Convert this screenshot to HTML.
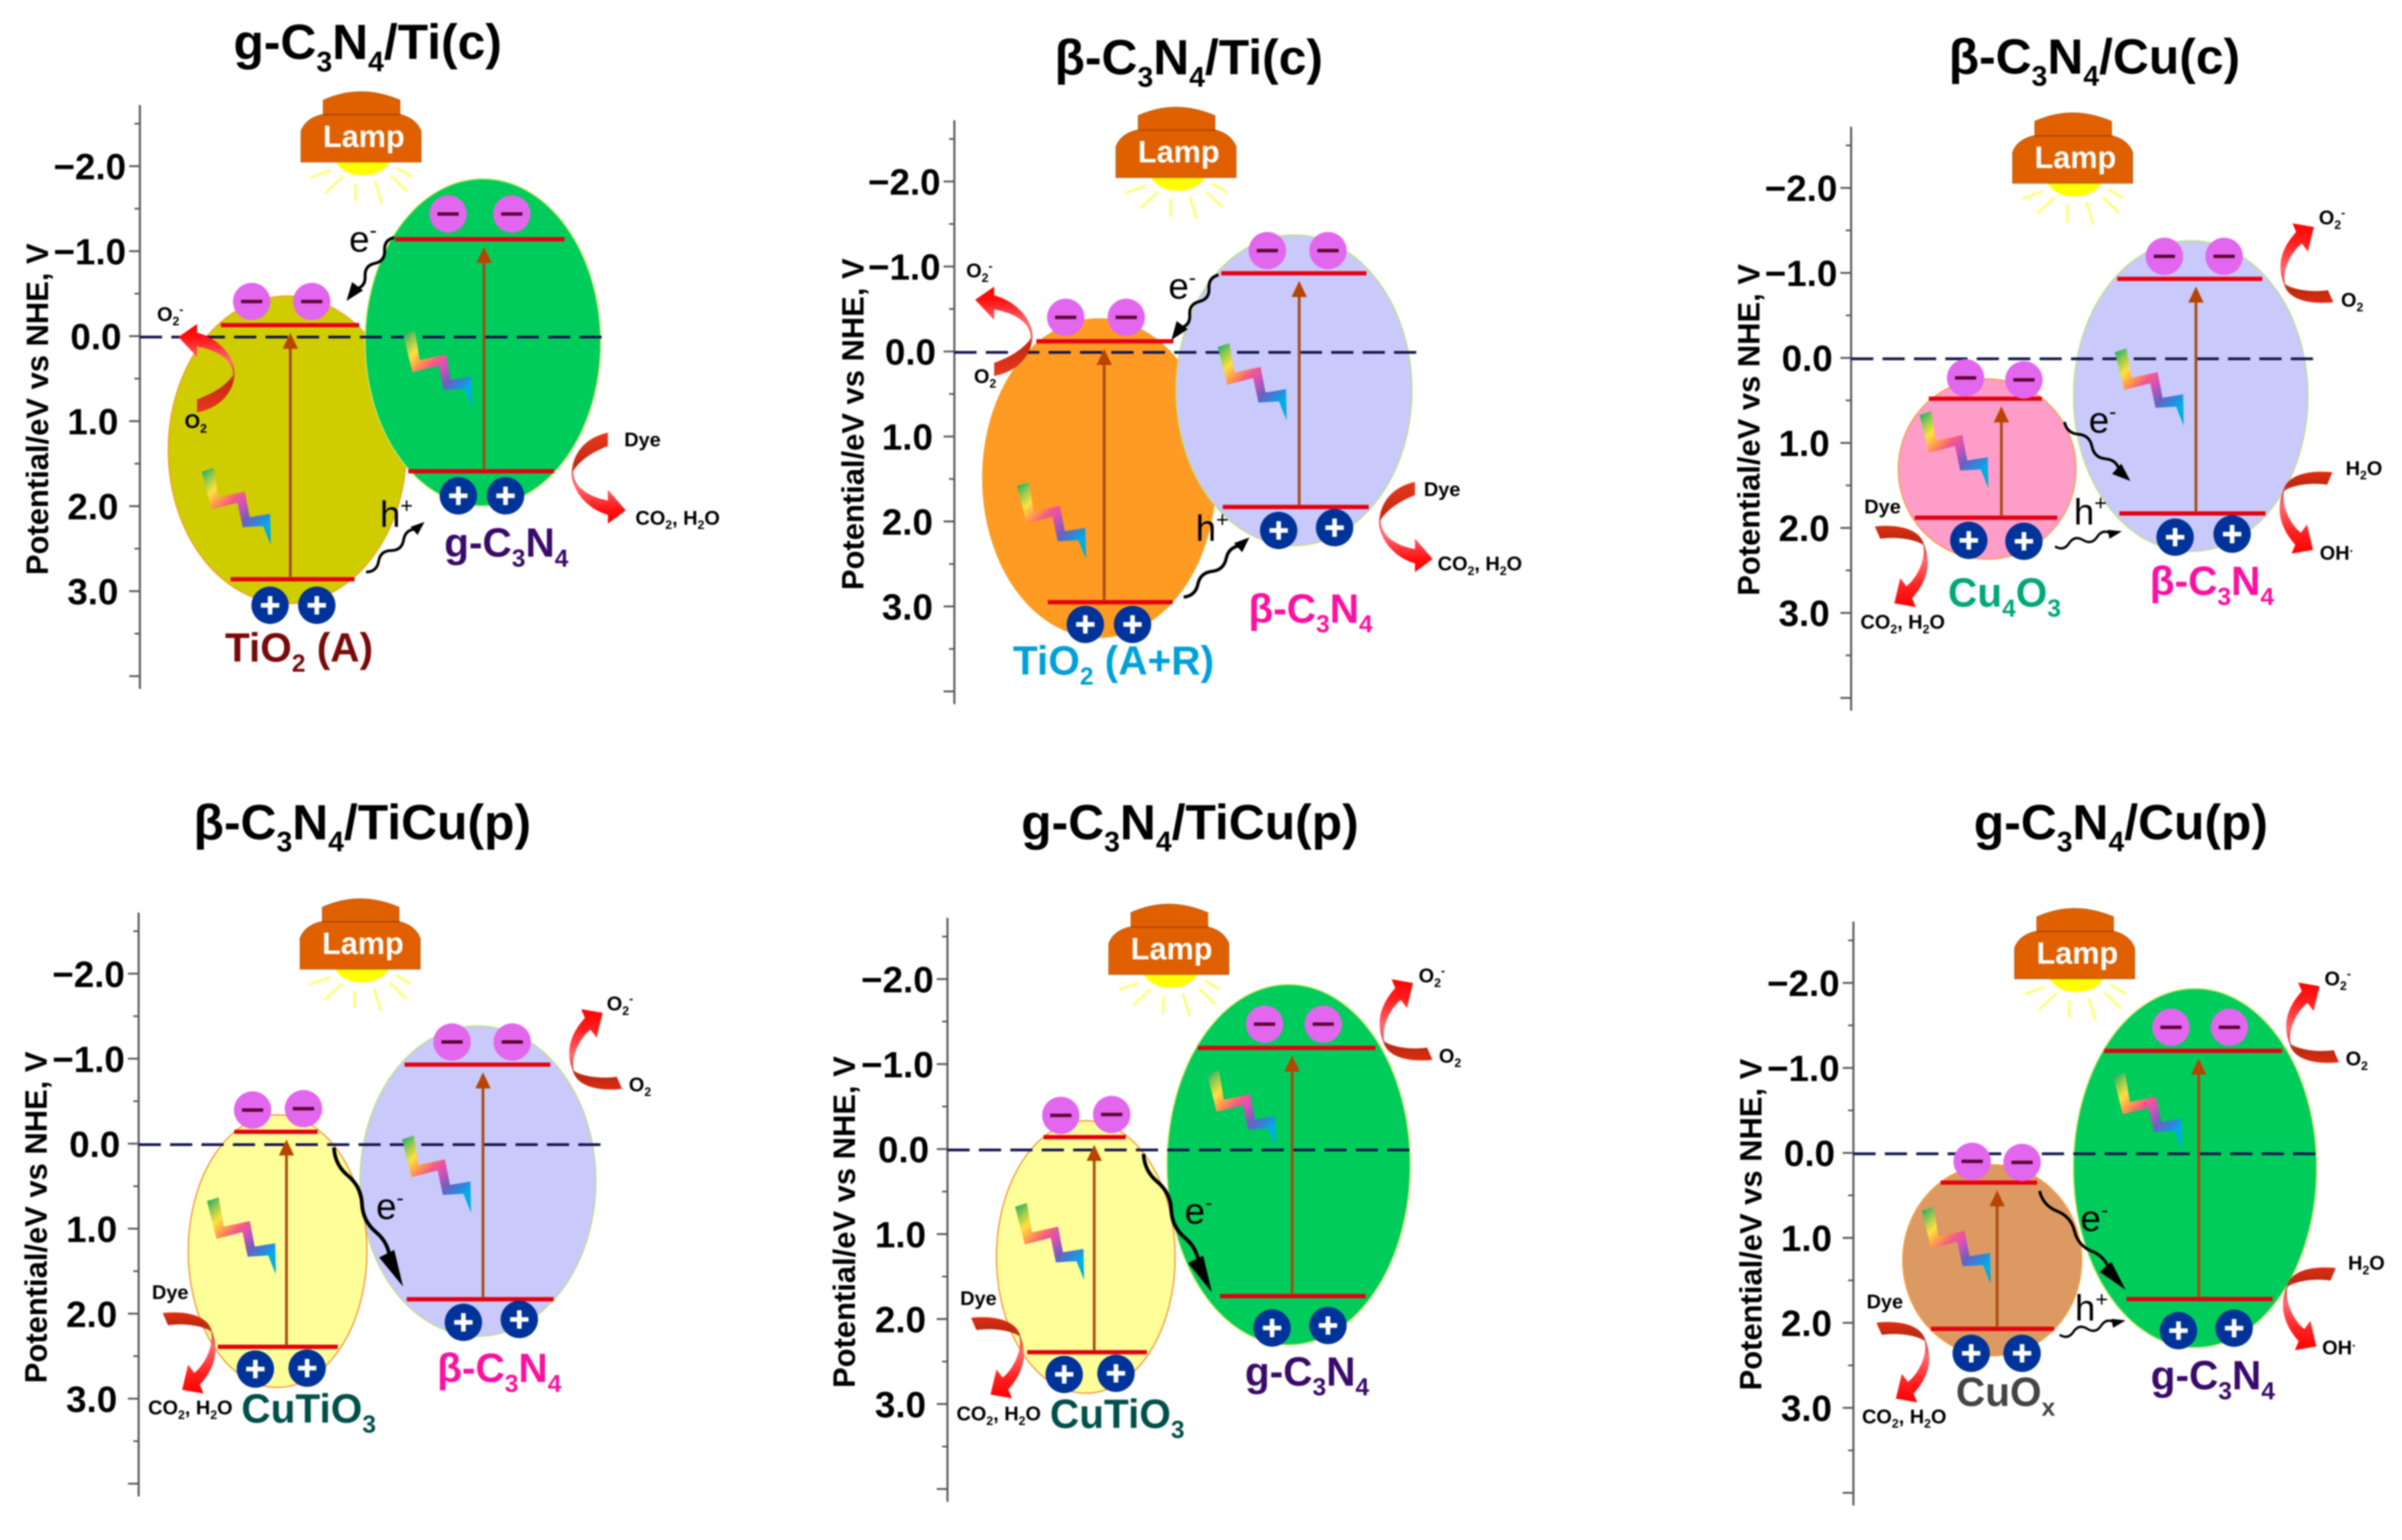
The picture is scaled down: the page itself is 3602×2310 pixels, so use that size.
<!DOCTYPE html>
<html lang="en">
<head>
<meta charset="utf-8">
<title>Band alignment diagrams</title>
<style>
html,body{margin:0;padding:0;background:#fff}
svg{display:block;filter:blur(1.1px)}
text{font-family:"Liberation Sans",sans-serif}
.title{font-size:32.5px;font-weight:700;fill:#000;text-anchor:middle}
.axt{font-size:20.2px;font-weight:700;fill:#000}
.mat{font-size:26.5px;font-weight:700;text-anchor:middle}
.sm{font-size:13px;font-weight:700;fill:#000}
.car{font-size:24px;fill:#000}
.lamp-text{font-size:20px;font-weight:700;fill:#fff;text-anchor:middle}
</style>
</head>
<body>
<svg xmlns="http://www.w3.org/2000/svg" width="3602" height="2310" viewBox="0 0 1568 1005.58">
<defs>
<linearGradient id="red-grad" x1="0" y1="0" x2="0" y2="1">
<stop offset="0" stop-color="#e8381c"/><stop offset=".35" stop-color="#c42a12"/><stop offset=".45" stop-color="#e84a40"/><stop offset=".58" stop-color="#ff7078"/><stop offset=".85" stop-color="#ff1010"/><stop offset="1" stop-color="#ff0000"/>
</linearGradient>
<linearGradient id="red-grad-b" x1="0" y1="0" x2="0" y2="1">
<stop offset="0" stop-color="#e02c12"/><stop offset=".16" stop-color="#bc2a10"/><stop offset=".26" stop-color="#d8403a"/><stop offset=".42" stop-color="#ff6a70"/><stop offset=".75" stop-color="#ff2020"/><stop offset="1" stop-color="#ff0000"/>
</linearGradient>
<linearGradient id="bolt-grad" gradientUnits="userSpaceOnUse" x1="0" y1="0" x2="47.5" y2="47.5">
<stop offset="0" stop-color="#00a870"/><stop offset=".12" stop-color="#90c850"/><stop offset=".23" stop-color="#ffe040"/><stop offset=".35" stop-color="#ff9050"/><stop offset=".43" stop-color="#f45a88"/><stop offset=".52" stop-color="#d850b8"/><stop offset=".66" stop-color="#6a60c0"/><stop offset=".78" stop-color="#2090e0"/><stop offset=".85" stop-color="#00b0e8"/><stop offset="1" stop-color="#00a8d0"/>
</linearGradient>
<path id="red-arrow" fill="url(#red-grad)" d="M23.9 0C10.2 2.9 1.45 12.3 .3 25.4C-.3 37 10.2 50 23.9 53.7L23.9 59.5L35.6 50.8L23.9 37.3L23.9 44.3C11.6 42.1 1.45 35.6 1.2 25.4C5 19 12 13.5 23.9 8.7Z"/>
<path id="red-arrow-b" fill="url(#red-grad-b)" d="M36.6 1.5C23.2 0 7.3 2.2 4.4 13.8C0 25.2 1.5 37 12.3 49.3L9.9 55.2L23.9 52.7L20 35.9L16 41.4C8.7 35.6 2.9 22.5 5.1 13.8C10.2 10.2 21.8 8 33.1 9.7Z"/>
<path id="bolt" fill="url(#bolt-grad)" d="M0 2.5L7.7 0L10.9 19.2L28 15.5L31.2 32.2L44.6 30L45 50.4L40 38L26.6 38.8L23.2 22.8L6.2 27.1Z"/>
<g id="lamp-shape">
<path fill="#ffff00" d="M22.9 45.9Q28 54.6 40.4 54.6T58 45.9Z"/>
<path fill="#e06000" stroke="#b06020" stroke-width=".5" d="M0 45.9V25.8Q3 17.5 13.5 15H14.5V5.5Q27 0 39.2 0T64.6 5.5V15H65.3Q75 17.5 78.4 25.8V45.9Z"/>
<path stroke="#a84000" stroke-width=".8" fill="none" d="M14.5 15H65"/>
<path stroke="#ffff70" stroke-width="1.6" fill="none" d="M6.5 55.9L19.6 51.2M16 66L27.3 55.3M35.6 59.9V71.6M48.3 58.5L52.7 73M58.8 54.9L69.4 65.5M62.4 49.8L72.3 55.6"/>
</g>
</defs>
<rect x="0" y="0" width="1568" height="1005.58" fill="#fff"/>
<g transform="translate(-1.5,-1.5)">

<!-- Panel 1 -->
<g>
<g id="marks-0"></g>
<use href="#bolt" transform="translate(133.3,307)"/>
<use href="#bolt" transform="translate(264.6,217.4)"/>
<use href="#red-arrow" transform="translate(155,270.8) scale(-1.04,-.97)"/>
<use href="#red-arrow" transform="translate(374.4,284)"/>
<text class="title" x="241.5" y="40">g-C<tspan dy="8" font-size="18.5">3</tspan><tspan dy="-8">N</tspan><tspan dy="8" font-size="18.5">4</tspan><tspan dy="-8">/Ti(c)</tspan></text>
<text class="axt" transform="translate(32.8,377) rotate(-90)">Potential/eV vs NHE, V</text>
<g transform="translate(198,61.4)"><use href="#lamp-shape"/><text class="lamp-text" x="41" y="36">Lamp</text></g>
<text class="mat" x="196.7" y="433.5" fill="#7a0a0a">TiO<tspan dy="6.5" font-size="16">2</tspan><tspan dy="-6.5"> (A)</tspan></text>
<text class="mat" x="332" y="365" fill="#3a0a6a">g-C<tspan dy="6.5" font-size="16">3</tspan><tspan dy="-6.5">N</tspan><tspan dy="6.5" font-size="16">4</tspan></text>
<text class="sm" x="104" y="211">O<tspan dy="3" font-size="8">2</tspan><tspan dy="-8" font-size="8">-</tspan></text>
<text class="sm" x="122" y="281">O<tspan dy="3" font-size="8">2</tspan></text>
<text class="sm" x="409" y="293">Dye</text>
<text class="sm" x="416.3" y="344">CO<tspan dy="3" font-size="8">2</tspan><tspan dy="-3">, H</tspan><tspan dy="3" font-size="8">2</tspan><tspan dy="-3">O</tspan></text>
<text class="car" x="229.4" y="165.8">e<tspan dy="-9" font-size="14">-</tspan></text>
<text class="car" x="249.5" y="345.4">h<tspan dy="-9" font-size="14">+</tspan></text>
</g>

<!-- Panel 2 -->
<g>
<g id="marks-1"></g>
<use href="#bolt" transform="translate(665.4,316.2)"/>
<use href="#bolt" transform="translate(796.4,225.6)"/>
<use href="#red-arrow" transform="translate(675.8,247) scale(-1.06,-.98)"/>
<use href="#red-arrow" transform="translate(901.5,316.2) scale(.99,.99)"/>
<text class="title" x="777.5" y="50">β-C<tspan dy="8" font-size="18.5">3</tspan><tspan dy="-8">N</tspan><tspan dy="8" font-size="18.5">4</tspan><tspan dy="-8">/Ti(c)</tspan></text>
<text class="axt" transform="translate(565.3,386.8) rotate(-90)">Potential/eV vs NHE, V</text>
<g transform="translate(730,71.5)"><use href="#lamp-shape"/><text class="lamp-text" x="41" y="36">Lamp</text></g>
<text class="mat" x="728.4" y="442" fill="#00a0d8">TiO<tspan dy="6.5" font-size="16">2</tspan><tspan dy="-6.5"> (A+R)</tspan></text>
<text class="mat" x="857" y="408" fill="#ff0f9f">β-C<tspan dy="6.5" font-size="16">3</tspan><tspan dy="-6.5">N</tspan><tspan dy="6.5" font-size="16">4</tspan></text>
<text class="sm" x="632.2" y="182.7">O<tspan dy="3" font-size="8">2</tspan><tspan dy="-8" font-size="8">-</tspan></text>
<text class="sm" x="637.3" y="251.7">O<tspan dy="3" font-size="8">2</tspan></text>
<text class="sm" x="931" y="325.4">Dye</text>
<text class="sm" x="940" y="374">CO<tspan dy="3" font-size="8">2</tspan><tspan dy="-3">, H</tspan><tspan dy="3" font-size="8">2</tspan><tspan dy="-3">O</tspan></text>
<text class="car" x="764.2" y="196.5">e<tspan dy="-9" font-size="14">-</tspan></text>
<text class="car" x="782" y="354.6">h<tspan dy="-9" font-size="14">+</tspan></text>
</g>

<!-- Panel 3 -->
<g>
<g id="marks-2"></g>
<use href="#bolt" transform="translate(1254.5,270)"/>
<use href="#bolt" transform="translate(1382,229)"/>
<use href="#red-arrow-b" transform="translate(1488.1,200.3) scale(1,-.96)"/>
<use href="#red-arrow-b" transform="translate(1487.5,308.4) scale(1,.99)"/>
<use href="#red-arrow-b" transform="translate(1262,343.8) scale(-1,.98)"/>
<text class="title" x="1368.7" y="49.5">β-C<tspan dy="8" font-size="18.5">3</tspan><tspan dy="-8">N</tspan><tspan dy="8" font-size="18.5">4</tspan><tspan dy="-8">/Cu(c)</tspan></text>
<text class="axt" transform="translate(1150,390.5) rotate(-90)">Potential/eV vs NHE, V</text>
<g transform="translate(1315.3,75.2)"><use href="#lamp-shape"/><text class="lamp-text" x="41" y="36">Lamp</text></g>
<text class="mat" x="1310" y="397.6" fill="#00a878">Cu<tspan dy="6.5" font-size="16">4</tspan><tspan dy="-6.5">O</tspan><tspan dy="6.5" font-size="16">3</tspan></text>
<text class="mat" x="1445.4" y="390" fill="#ff0f9f">β-C<tspan dy="6.5" font-size="16">3</tspan><tspan dy="-6.5">N</tspan><tspan dy="6.5" font-size="16">4</tspan></text>
<text class="sm" x="1515.2" y="148">O<tspan dy="3" font-size="8">2</tspan><tspan dy="-8" font-size="8">-</tspan></text>
<text class="sm" x="1529.7" y="201.7">O<tspan dy="3" font-size="8">2</tspan></text>
<text class="sm" x="1532.7" y="311.6">H<tspan dy="3" font-size="8">2</tspan><tspan dy="-3">O</tspan></text>
<text class="sm" x="1515.8" y="367">OH<tspan dy="-5" font-size="8">.</tspan></text>
<text class="sm" x="1218.5" y="336.8">Dye</text>
<text class="sm" x="1216" y="412">CO<tspan dy="3" font-size="8">2</tspan><tspan dy="-3">, H</tspan><tspan dy="3" font-size="8">2</tspan><tspan dy="-3">O</tspan></text>
<text class="car" x="1365" y="284">e<tspan dy="-9" font-size="14">-</tspan></text>
<text class="car" x="1355.3" y="343.8">h<tspan dy="-9" font-size="14">+</tspan></text>
</g>

<!-- Panel 4 -->
<g>
<g id="marks-3"></g>
<use href="#bolt" transform="translate(136.6,783.3)"/>
<use href="#bolt" transform="translate(264,743)"/>
<use href="#red-arrow-b" transform="translate(371,714) scale(1,-.97)"/>
<use href="#red-arrow-b" transform="translate(144.3,857.4) scale(-1,.98)"/>
<text class="title" x="238" y="549.5">β-C<tspan dy="8" font-size="18.5">3</tspan><tspan dy="-8">N</tspan><tspan dy="8" font-size="18.5">4</tspan><tspan dy="-8">/TiCu(p)</tspan></text>
<text class="axt" transform="translate(32,904.7) rotate(-90)">Potential/eV vs NHE, V</text>
<g transform="translate(197.4,588.4)"><use href="#lamp-shape"/><text class="lamp-text" x="41" y="36">Lamp</text></g>
<text class="mat" x="203" y="930.5" fill="#00504a">CuTiO<tspan dy="6.5" font-size="16">3</tspan></text>
<text class="mat" x="327.4" y="904" fill="#ff0f9f">β-C<tspan dy="6.5" font-size="16">3</tspan><tspan dy="-6.5">N</tspan><tspan dy="6.5" font-size="16">4</tspan></text>
<text class="sm" x="397.6" y="661.3">O<tspan dy="3" font-size="8">2</tspan><tspan dy="-8" font-size="8">-</tspan></text>
<text class="sm" x="412" y="714.2">O<tspan dy="3" font-size="8">2</tspan></text>
<text class="sm" x="100.7" y="849.8">Dye</text>
<text class="sm" x="98.2" y="925">CO<tspan dy="3" font-size="8">2</tspan><tspan dy="-3">, H</tspan><tspan dy="3" font-size="8">2</tspan><tspan dy="-3">O</tspan></text>
<text class="car" x="247" y="797.5">e<tspan dy="-9" font-size="14">-</tspan></text>
</g>

<!-- Panel 5 -->
<g>
<g id="marks-4"></g>
<use href="#bolt" transform="translate(664.2,787)"/>
<use href="#bolt" transform="translate(789.5,700.4)"/>
<use href="#red-arrow-b" transform="translate(900,695) scale(1,-.98)"/>
<use href="#red-arrow-b" transform="translate(672,860.5) scale(-1,.98)"/>
<text class="title" x="778.3" y="549.5">g-C<tspan dy="8" font-size="18.5">3</tspan><tspan dy="-8">N</tspan><tspan dy="8" font-size="18.5">4</tspan><tspan dy="-8">/TiCu(p)</tspan></text>
<text class="axt" transform="translate(559.5,907.8) rotate(-90)">Potential/eV vs NHE, V</text>
<g transform="translate(725.3,591.9)"><use href="#lamp-shape"/><text class="lamp-text" x="41" y="36">Lamp</text></g>
<text class="mat" x="730.8" y="934" fill="#00504a">CuTiO<tspan dy="6.5" font-size="16">3</tspan></text>
<text class="mat" x="854.7" y="906.2" fill="#3a0a6a">g-C<tspan dy="6.5" font-size="16">3</tspan><tspan dy="-6.5">N</tspan><tspan dy="6.5" font-size="16">4</tspan></text>
<text class="sm" x="927.6" y="643">O<tspan dy="3" font-size="8">2</tspan><tspan dy="-8" font-size="8">-</tspan></text>
<text class="sm" x="940.8" y="695.3">O<tspan dy="3" font-size="8">2</tspan></text>
<text class="sm" x="628.3" y="853.6">Dye</text>
<text class="sm" x="625.9" y="929">CO<tspan dy="3" font-size="8">2</tspan><tspan dy="-3">, H</tspan><tspan dy="3" font-size="8">2</tspan><tspan dy="-3">O</tspan></text>
<text class="car" x="774.8" y="800.6">e<tspan dy="-9" font-size="14">-</tspan></text>
</g>

<!-- Panel 6 -->
<g>
<g id="marks-5"></g>
<use href="#bolt" transform="translate(1256,789.6)"/>
<use href="#bolt" transform="translate(1381,702)"/>
<use href="#red-arrow-b" transform="translate(1491.8,696.6) scale(1,-.97)"/>
<use href="#red-arrow-b" transform="translate(1489.7,828)"/>
<use href="#red-arrow-b" transform="translate(1263,863.7) scale(-1,.97)"/>
<text class="title" x="1386" y="549.5">g-C<tspan dy="8" font-size="18.5">3</tspan><tspan dy="-8">N</tspan><tspan dy="8" font-size="18.5">4</tspan><tspan dy="-8">/Cu(p)</tspan></text>
<text class="axt" transform="translate(1151.4,909.4) rotate(-90)">Potential/eV vs NHE, V</text>
<g transform="translate(1316.6,594.7)"><use href="#lamp-shape"/><text class="lamp-text" x="41" y="36">Lamp</text></g>
<text class="mat" x="1310.7" y="919.5" fill="#444444">CuO<tspan dy="6.5" font-size="16">x</tspan></text>
<text class="mat" x="1446" y="908.8" fill="#3a0a6a">g-C<tspan dy="6.5" font-size="16">3</tspan><tspan dy="-6.5">N</tspan><tspan dy="6.5" font-size="16">4</tspan></text>
<text class="sm" x="1518.9" y="645">O<tspan dy="3" font-size="8">2</tspan><tspan dy="-8" font-size="8">-</tspan></text>
<text class="sm" x="1532.7" y="697.2">O<tspan dy="3" font-size="8">2</tspan></text>
<text class="sm" x="1534.3" y="830.6">H<tspan dy="3" font-size="8">2</tspan><tspan dy="-3">O</tspan></text>
<text class="sm" x="1517.4" y="885.8">OH<tspan dy="-5" font-size="8">.</tspan></text>
<text class="sm" x="1220" y="855.8">Dye</text>
<text class="sm" x="1217" y="930.8">CO<tspan dy="3" font-size="8">2</tspan><tspan dy="-3">, H</tspan><tspan dy="3" font-size="8">2</tspan><tspan dy="-3">O</tspan></text>
<text class="car" x="1359.6" y="805.4">e<tspan dy="-9" font-size="14">-</tspan></text>
<text class="car" x="1356" y="863.7">h<tspan dy="-9" font-size="14">+</tspan></text>
</g>
</g>
</svg>

<script>
// Band-edge potentials (eV vs NHE), one entry per panel.
const leftCB  = [-0.13, -0.12, 0.48, -0.14, -0.14, 0.35];
const leftVB  = [2.86, 2.95, 1.88, 2.39, 2.39, 2.07];
const rightCB = [-1.14, -0.92, -0.93, -0.93, -1.19, -1.20];
const rightVB = [1.59, 1.83, 1.83, 1.83, 1.73, 1.72];
// Axis tick values and printed labels (shared by all panels).
const majorTicks = [-2, -1, 0, 1, 2, 3, 4];
const minorTicks = [-2.5, -1.5, -0.5, 0.5, 1.5, 2.5, 3.5];
const tickLabels = ['\u22122.0', '\u22121.0', '0.0', '1.0', '2.0', '3.0', ''];
const referenceLevel = [0];

const SVGNS = 'http://www.w3.org/2000/svg';
const PX_PER_EV = 55.5;

function node(tag, parent, attrs) {
  const el = document.createElementNS(SVGNS, tag);
  for (const k in attrs) el.setAttribute(k, attrs[k]);
  parent.appendChild(el);
  return el;
}

function drawAxis(g, axisX, yOf) {
  const spine = node('line', g, {x1: axisX, x2: axisX, y1: yOf(-2.72), y2: yOf(4.15), stroke: '#555', 'stroke-width': 1.3});
  
  
  majorTicks.forEach((v, k) => {
    const t = node('line', g, {x1: axisX - 7, x2: axisX, y1: yOf(v), y2: yOf(v), stroke: '#555', 'stroke-width': 1.2});
    
    
    if (!tickLabels[k]) return;
    const off = v < 0 ? 9 : (v === 0 ? 12 : 14);
    const lab = node('text', g, {x: axisX - off, y: yOf(v) + 8.6, 'text-anchor': 'end', 'font-size': 24, 'font-weight': 700, fill: '#000'});
    
    
    lab.textContent = tickLabels[k];
  });
  minorTicks.forEach(v => {
    const t = node('line', g, {x1: axisX - 3.5, x2: axisX, y1: yOf(v), y2: yOf(v), stroke: '#555', 'stroke-width': 1.1});
    
    
  });
}

function drawBody(g, s, yOf) {
  const top = yOf(s.cb) - s.padT, bot = yOf(s.vb) + s.padB;
  const e = node('ellipse', g, {cx: s.cx, rx: s.rx, cy: (top + bot) / 2, ry: (bot - top) / 2, fill: s.fill, stroke: s.stroke, 'stroke-width': 0.8});
  
  
}

function drawBands(g, s, yOf) {
  const yc = yOf(s.cb), yv = yOf(s.vb);
  const cb = node('line', g, {x1: s.cbX[0], x2: s.cbX[1], y1: yc, y2: yc, stroke: '#e4000f', 'stroke-width': 2.8});
  
  
  const vb = node('line', g, {x1: s.vbX[0], x2: s.vbX[1], y1: yv, y2: yv, stroke: '#e4000f', 'stroke-width': 2.8});
  
  
  const shaft = node('line', g, {x1: s.arrowX, x2: s.arrowX, y1: yv - 1, y2: yc + 14, stroke: '#a84a10', 'stroke-width': 1.8});
  
  
  const head = node('polygon', g, {points: (s.arrowX - 5) + ',' + (yc + 15.5) + ' ' + (s.arrowX + 5) + ',' + (yc + 15.5) + ' ' + s.arrowX + ',' + (yc + 5), fill: '#b84400'});
  
  
  s.ex.forEach((x, k) => {
    const cy = yc - s.ed[k];
    const c = node('circle', g, {cx: x, cy: cy, r: 12.2, fill: '#e266ee'});
    
    
    const m = node('rect', g, {x: x - 6.9, y: cy - 1.1, width: 13.8, height: 2.2, fill: '#5a0030'});
    
    
  });
  s.hx.forEach((x, k) => {
    const cy = yv + s.hd[k];
    const c = node('circle', g, {cx: x, cy: cy, r: 12.2, fill: '#003399'});
    
    
    const p = node('path', g, {d: 'M' + (x - 6) + ' ' + cy + 'H' + (x + 6) + 'M' + x + ' ' + (cy - 6) + 'V' + (cy + 6), stroke: '#fff', 'stroke-width': 3, fill: 'none'});
    
    
  });
}

function drawWave(g, name, x1, y1, x2, y2, headLen, headW, lw) {
  const dx = x2 - x1, dy = y2 - y1, len = Math.hypot(dx, dy);
  const ux = dx / len, uy = dy / len, px = -uy, py = ux;
  const L = len - headLen * 0.8;
  const at = (t, o) => (x1 + ux * L * t + px * o) + ' ' + (y1 + uy * L * t + py * o);
  const d = 'M' + at(0, 0) + 'Q' + at(0.125, 4.5) + ' ' + at(0.25, 0) + 'T' + at(0.5, 0) + 'T' + at(0.75, 0) + 'T' + at(1, 0);
  const w = node('path', g, {d: d, fill: 'none', stroke: '#000', 'stroke-width': lw});
  
  
  const bx = x2 - ux * headLen, by = y2 - uy * headLen;
  const pts = x2 + ',' + y2 + ' ' + (bx + px * headW / 2) + ',' + (by + py * headW / 2) + ' ' + (bx - px * headW / 2) + ',' + (by - py * headW / 2);
  const h = node('polygon', g, {points: pts, fill: '#000'});
  
  
}

function drawPanel(i, axisX, zeroY, left, right, leftOnTop, waves) {
  const yOf = v => zeroY + v * PX_PER_EV;
  const g = document.getElementById('marks-' + i);
  left.cb = leftCB[i]; left.vb = leftVB[i];
  right.cb = rightCB[i]; right.vb = rightVB[i];
  (leftOnTop ? [right, left] : [left, right]).forEach(s => drawBody(g, s, yOf));
  drawAxis(g, axisX, yOf);
  referenceLevel.forEach(v => {
    const dash = node('line', g, {x1: axisX, x2: axisX + 302, y1: yOf(v) + 0.6, y2: yOf(v) + 0.6, stroke: '#14144e', 'stroke-width': 1.8, 'stroke-dasharray': '14.5 6'});
    
    
  });
  drawBands(g, left, yOf);
  drawBands(g, right, yOf);
  waves.forEach(w => drawWave(g, w[0], w[1], w[2], w[3], w[4], w[5], w[6], w[7]));
}

drawPanel(0, 92.8, 221,
  {cx: 189, rx: 77.7, padT: 19, padB: 16, fill: '#cfcc00', stroke: '#f0a030', cbX: [145.7, 236], vbX: [152, 233], arrowX: 191, ex: [165.8, 205], ed: [15.4, 15.4], hx: [177.8, 208.3], hd: [17, 17]},
  {cx: 316.7, rx: 76.9, padT: 39.5, padB: 22.6, fill: '#00cc5c', stroke: '#c8e860', cbX: [259.5, 370], vbX: [268, 363], arrowX: 317.5, ex: [294, 335.6], ed: [16.5, 16.5], hx: [300.7, 331.5], hd: [16, 16]},
  false,
  [['electron-transfer-arrow', 258.9, 156.6, 227.7, 198, 12, 9, 1.9], ['hole-transfer-arrow', 240.5, 375, 278.6, 342.3, 9, 7, 1.8]]);

drawPanel(1, 624.5, 231,
  {cx: 719, rx: 76, padT: 14.7, padB: 23, fill: '#ff9a22', stroke: '#f0a030', cbX: [678, 767.5], vbX: [685.5, 767], arrowX: 722.3, ex: [697.2, 736.7], ed: [15.6, 15.6], hx: [710, 740.8], hd: [14.5, 14.5]},
  {cx: 846.2, rx: 77, padT: 25, padB: 25.2, fill: '#c9c9fb', stroke: '#c0e080', cbX: [798.7, 893.5], vbX: [799.7, 895], arrowX: 849.6, ex: [828.8, 868.4], ed: [14.8, 14.8], hx: [836.2, 872.7], hd: [15.3, 13.5]},
  false,
  [['electron-transfer-arrow', 797, 181, 766.2, 223.5, 12, 9, 1.9], ['hole-transfer-arrow', 774.2, 391.4, 817.1, 352.4, 10, 8, 2.1]]);

drawPanel(2, 1209.9, 235.2,
  {cx: 1298.7, rx: 58, padT: 12.9, padB: 27.1, fill: '#ff9dc9', stroke: '#f0a040', cbX: [1260.6, 1334.4], vbX: [1251.4, 1344.5], arrowX: 1308, ex: [1284.6, 1322.7], ed: [13.6, 12.3], hx: [1286.7, 1322.7], hd: [14.8, 15.4]},
  {cx: 1431.6, rx: 76.5, padT: 24.9, padB: 24.8, fill: '#c9c9fb', stroke: '#c0e080', cbX: [1383.6, 1478.3], vbX: [1385, 1480.4], arrowX: 1435, ex: [1414.4, 1453.4], ed: [14.7, 14.7], hx: [1421.4, 1458.6], hd: [15.5, 13.5]},
  true,
  [['electron-transfer-arrow', 1349.2, 277, 1392.2, 315.6, 12, 9, 1.8], ['hole-transfer-arrow', 1343, 358.3, 1386.7, 348.4, 9, 6, 1.5]]);

drawPanel(3, 92, 748.3,
  {cx: 182.7, rx: 58.3, padT: 11, padB: 26.5, fill: '#ffff99', stroke: '#f09030', cbX: [154.4, 208.8], vbX: [143.7, 222], arrowX: 188.5, ex: [166.4, 199.6], ed: [14.2, 15.1], hx: [168.2, 202], hd: [14.5, 13.9]},
  {cx: 313.5, rx: 77, padT: 25.3, padB: 24.2, fill: '#c9c9fb', stroke: '#c0e080', cbX: [265.6, 360.7], vbX: [267, 362.9], arrowX: 316.8, ex: [296.6, 335.9], ed: [14.8, 14.8], hx: [304, 340.5], hd: [15.1, 13.2]},
  true,
  [['electron-transfer-arrow', 219.5, 750.8, 264.6, 841.6, 24, 11, 2.4]]);

drawPanel(4, 620, 751.8,
  {cx: 710.3, rx: 58.3, padT: 10.7, padB: 26.8, fill: '#ffff99', stroke: '#f09030', cbX: [682.7, 736.4], vbX: [672, 750.2], arrowX: 715.8, ex: [694, 727.2], ed: [14.2, 14.8], hx: [696.2, 730], hd: [14.5, 13.8]},
  {cx: 842.7, rx: 79.4, padT: 41.4, padB: 31.9, fill: '#00cc5c', stroke: '#c8e860', cbX: [783.4, 899.4], vbX: [798, 893], arrowX: 845, ex: [827, 865.3], ed: [15.5, 15.5], hx: [831.9, 868.4], hd: [20.8, 19.2]},
  true,
  [['electron-transfer-arrow', 748, 754.9, 792.6, 845.4, 24, 11, 2.4]]);

drawPanel(5, 1211.4, 754.3,
  {cx: 1302, rx: 58.4, padT: 11.7, padB: 17.7, fill: '#dc9a62', stroke: '#f0a040', cbX: [1268.3, 1331.3], vbX: [1262, 1342.4], arrowX: 1305.2, ex: [1288.9, 1321.5], ed: [13.9, 13.2], hx: [1288.3, 1321.5], hd: [16, 16]},
  {cx: 1434.4, rx: 79.4, padT: 40.7, padB: 31.7, fill: '#00cc5c', stroke: '#c8e860', cbX: [1375, 1491.2], vbX: [1389.7, 1485], arrowX: 1436.8, ex: [1418.7, 1456.8], ed: [15.4, 15.4], hx: [1423.6, 1459.9], hd: [20.6, 19]},
  true,
  [['electron-transfer-arrow', 1332.9, 779.2, 1389.1, 843.8, 20, 10, 1.9], ['hole-transfer-arrow', 1346, 873.1, 1389.1, 863.7, 9, 6, 1.5]]);
</script>
</body>
</html>
